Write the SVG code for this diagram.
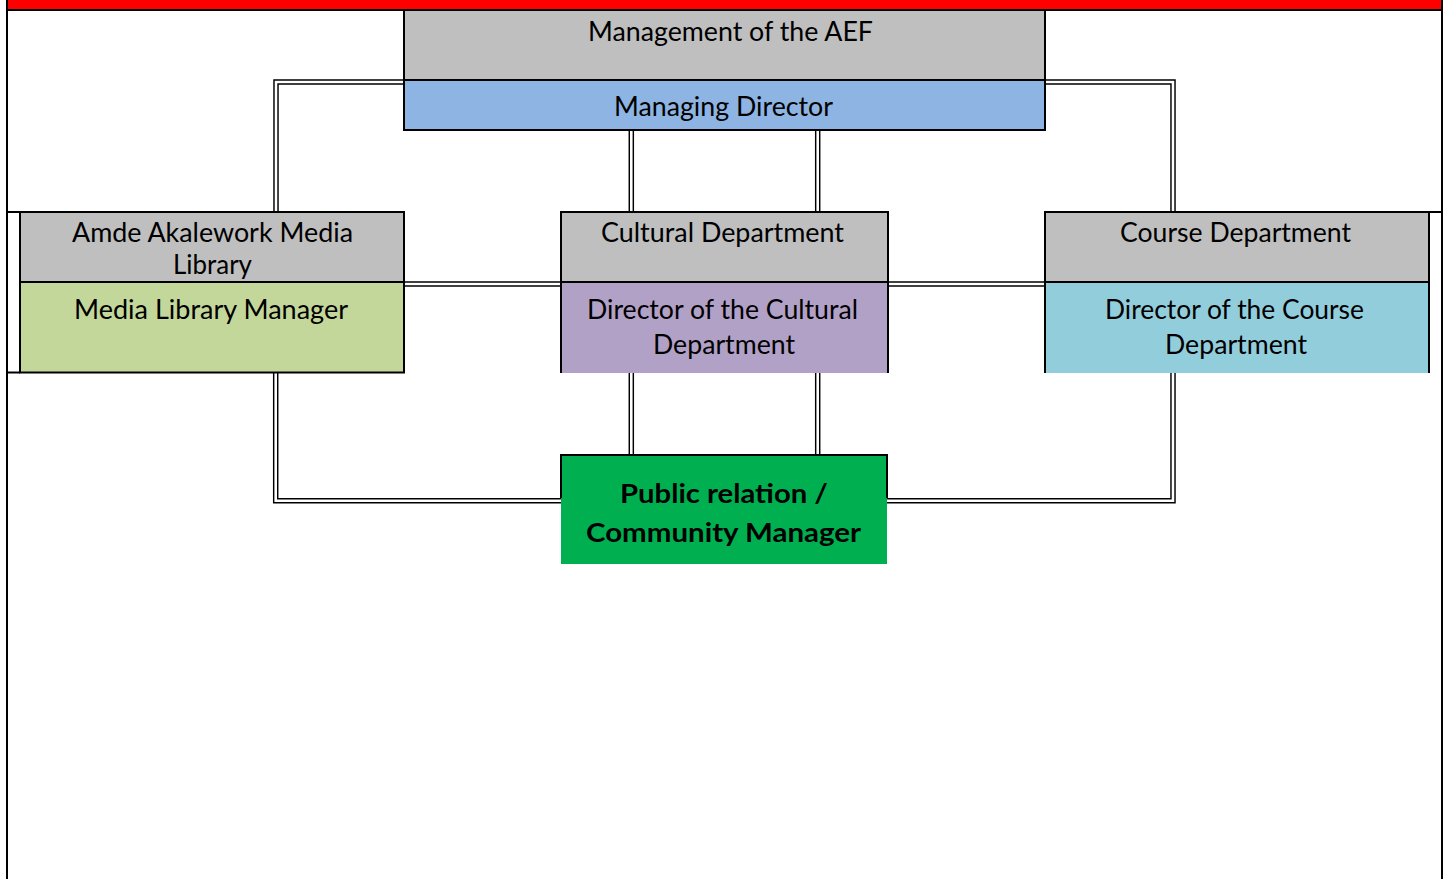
<svg xmlns="http://www.w3.org/2000/svg" width="1444" height="879" viewBox="0 0 1444 879">
<style>
.bg{fill:#ffffff}
.frame{stroke:#000;stroke-width:2;fill:none}
.bd{stroke:#000;stroke-width:2;fill:none}
.co{fill:none;stroke:#000;stroke-width:5.5}
.ci{fill:none;stroke:#fff;stroke-width:2.6}
.t{font-family:Lato,"Noto Sans","Liberation Sans",sans-serif;font-size:27px;fill:#000;text-anchor:middle}
.tb{font-family:Lato,"Noto Sans","Liberation Sans",sans-serif;font-size:27px;font-weight:bold;fill:#000;text-anchor:middle}
</style>
<rect class="bg" x="0" y="0" width="1444" height="879"/>
<rect x="8" y="0" width="1433" height="9" fill="#ff0000"/>
<g id="frame">
<line class="frame" x1="7" y1="0" x2="7" y2="879"/>
<line class="frame" x1="1442" y1="0" x2="1442" y2="879"/>
<line class="frame" x1="7" y1="10" x2="1442" y2="10"/>
<line class="frame" x1="7" y1="212" x2="20" y2="212"/>
<line class="frame" x1="7" y1="372.5" x2="20" y2="372.5"/>
<line class="frame" x1="1429" y1="212" x2="1442" y2="212"/>
</g>
<g id="connectors">
<path id="c1" class="co" d="M404,82 H276 V212"/><path class="ci" d="M404,82 H276 V212"/>
<path id="c2" class="co" d="M1045,82 H1173 V212"/><path class="ci" d="M1045,82 H1173 V212"/>
<path id="c3" class="co" d="M631.3,130 V212"/><path class="ci" d="M631.3,130 V212"/>
<path id="c4" class="co" d="M817.7,130 V212"/><path class="ci" d="M817.7,130 V212"/>
<path id="c5" class="co" d="M631.3,372 V455"/><path class="ci" d="M631.3,372 V455"/>
<path id="c6" class="co" d="M817.7,372 V455"/><path class="ci" d="M817.7,372 V455"/>
<path id="c7" class="co" d="M404,284 H561"/><path class="ci" d="M404,284 H561"/>
<path id="c8" class="co" d="M888,284 H1045"/><path class="ci" d="M888,284 H1045"/>
<path id="c9" class="co" d="M275.7,372 V500.7 H561"/><path class="ci" d="M275.7,372 V500.7 H561"/>
<path id="c10" class="co" d="M887,500.7 H1173 V372"/><path class="ci" d="M887,500.7 H1173 V372"/>
</g>
<g id="management">
<rect x="404" y="10" width="641" height="70" fill="#bfbfbf"/>
<rect x="404" y="80" width="641" height="50" fill="#8eb4e3"/>
<rect class="bd" x="404" y="10" width="641" height="120"/>
<line class="bd" x1="404" y1="80" x2="1045" y2="80"/>
<text class="t" x="730.5" y="40.5" textLength="285" lengthAdjust="spacingAndGlyphs">Management of the AEF</text>
<text class="t" x="723.5" y="116" textLength="219" lengthAdjust="spacingAndGlyphs">Managing Director</text>
</g>
<g id="media-library">
<rect x="20" y="212" width="384" height="70" fill="#bfbfbf"/>
<rect x="20" y="282" width="384" height="90" fill="#c4d79b"/>
<rect class="bd" x="20" y="212" width="384" height="160.5"/>
<line class="bd" x1="20" y1="282" x2="404" y2="282"/>
<text class="t" x="212.5" y="241.5" textLength="281" lengthAdjust="spacingAndGlyphs">Amde Akalework Media</text>
<text class="t" x="212.5" y="273.5" textLength="79" lengthAdjust="spacingAndGlyphs">Library</text>
<text class="t" x="211" y="318.5" textLength="274" lengthAdjust="spacingAndGlyphs">Media Library Manager</text>
</g>
<g id="cultural">
<rect x="561" y="212" width="327" height="70" fill="#bfbfbf"/>
<rect x="561" y="282" width="327" height="91" fill="#b2a1c7"/>
<rect class="bd" x="561" y="212" width="327" height="70"/>
<path class="bd" d="M561,282 V373 M888,282 V373"/>
<text class="t" x="722.5" y="241.5" textLength="243" lengthAdjust="spacingAndGlyphs">Cultural Department</text>
<text class="t" x="722.5" y="318.5" textLength="271" lengthAdjust="spacingAndGlyphs">Director of the Cultural</text>
<text class="t" x="724" y="353.5" textLength="142" lengthAdjust="spacingAndGlyphs">Department</text>
</g>
<g id="course">
<rect x="1045" y="212" width="384" height="70" fill="#bfbfbf"/>
<rect x="1045" y="282" width="384" height="91" fill="#92cddc"/>
<rect class="bd" x="1045" y="212" width="384" height="70"/>
<path class="bd" d="M1045,282 V373 M1429,282 V373"/>
<text class="t" x="1235.5" y="241.5" textLength="231" lengthAdjust="spacingAndGlyphs">Course Department</text>
<text class="t" x="1234.5" y="318.5" textLength="259" lengthAdjust="spacingAndGlyphs">Director of the Course</text>
<text class="t" x="1236" y="353.5" textLength="142" lengthAdjust="spacingAndGlyphs">Department</text>
</g>
<g id="public-relation">
<rect x="561" y="455" width="326" height="109" fill="#00b050"/>
<path class="bd" d="M561,498 V455 H887 V498"/>
<text class="tb" x="724" y="503" textLength="208" lengthAdjust="spacingAndGlyphs">Public relation /</text>
<text class="tb" x="723.5" y="541.5" textLength="275" lengthAdjust="spacingAndGlyphs">Community Manager</text>
</g>
</svg>
